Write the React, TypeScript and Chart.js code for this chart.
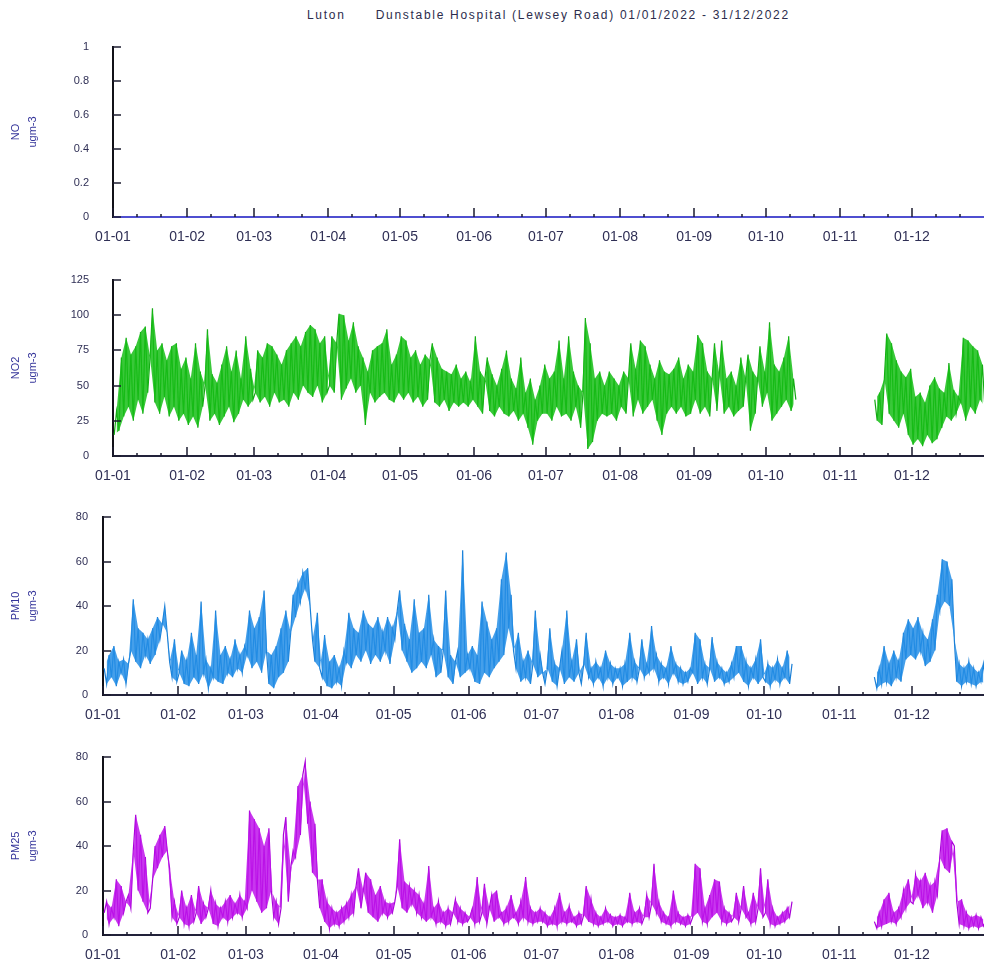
import React, { useEffect, useRef } from 'react';
import { Chart, registerables } from 'chart.js';

Chart.register(...registerables);

const TITLE = 'Luton      Dunstable Hospital (Lewsey Road) 01/01/2022 - 31/12/2022';
const MONTH_LABELS = ['01-01', '01-02', '01-03', '01-04', '01-05', '01-06', '01-07', '01-08', '01-09', '01-10', '01-11', '01-12'];
const MONTH_STARTS = [0, 31, 59, 90, 120, 151, 181, 212, 243, 273, 304, 334];
const YEAR_END = 365;
const MINOR_OFFSETS = [10, 20];

// NO: flat zero line all year (values at month boundaries)
const NO_VALUES = [0, 0, 0, 0, 0, 0, 0, 0, 0, 0, 0, 0, 0];

// NO2 daily high/low readings (ugm-3)
const NO2_JAN = [15, 32, 18, 70, 28, 84, 35, 72, 25, 78, 40, 88, 30, 92, 45, 70, 105, 38, 75, 30, 80, 42, 68, 28, 78, 35, 80, 25, 62, 30, 70];
const NO2_FEB = [22, 55, 28, 80, 20, 60, 35, 50, 90, 25, 58, 30, 52, 22, 65, 28, 78, 35, 60, 24, 75, 30, 55, 40, 85, 35, 62, 40];
const NO2_MAR = [45, 75, 38, 70, 42, 80, 35, 78, 45, 72, 38, 65, 40, 75, 35, 80, 45, 85, 40, 78, 50, 88, 45, 93, 42, 90, 50, 80, 38, 85, 45];
const NO2_APR = [50, 85, 45, 80, 101, 40, 100, 48, 82, 55, 95, 45, 78, 50, 70, 22, 60, 45, 75, 38, 78, 42, 80, 45, 90, 40, 65, 38, 72, 45];
const NO2_MAY = [85, 40, 82, 45, 70, 38, 75, 42, 65, 35, 72, 40, 68, 80, 38, 70, 35, 62, 40, 60, 32, 58, 38, 65, 35, 55, 38, 60, 35, 52, 40];
const NO2_JUN = [85, 35, 60, 30, 55, 70, 32, 58, 28, 50, 35, 62, 30, 75, 28, 55, 32, 48, 25, 70, 30, 45, 20, 55, 8, 40, 25, 50, 30, 65];
const NO2_JUL = [30, 55, 25, 60, 35, 82, 28, 55, 30, 85, 25, 60, 35, 50, 20, 45, 98, 5, 80, 10, 55, 25, 60, 30, 50, 28, 60, 30, 55, 25, 50];
const NO2_AUG = [35, 60, 30, 55, 80, 28, 62, 40, 82, 30, 78, 35, 65, 40, 55, 25, 68, 15, 60, 30, 58, 35, 62, 30, 70, 35, 55, 28, 65, 30, 60];
const NO2_SEP = [40, 86, 30, 80, 35, 60, 28, 55, 80, 32, 58, 82, 30, 55, 35, 60, 28, 50, 32, 70, 35, 55, 72, 18, 60, 30, 55, 78, 35, 60];
const NO2_OCT = [45, 95, 25, 65, 30, 60, 35, 70, 40, 85, 32, 55, 40, null];
const NO2_NOV = [null, null, null, null, null, null, null, null, null, null, null, null, null, null, 40, 25, 45, 22, 55, 87, 30, 80, 25, 68, 20, 60, 30, 56, 15, 62];
const NO2_DEC = [8, 42, 12, 45, 7, 38, 15, 50, 9, 56, 12, 48, 20, 45, 28, 66, 25, 47, 30, 42, 38, 84, 25, 82, 35, 78, 30, 75, 40, 65, 35];

// PM10 daily high/low readings (ugm-3)
const PM10_JAN = [12, 5, 18, 8, 22, 4, 15, 10, 16, 5, 14, 20, 43, 15, 30, 12, 28, 18, 25, 14, 30, 18, 35, 25, 32, 40, 28, 15, 8, 25, 6];
const PM10_FEB = [10, 20, 5, 15, 4, 28, 8, 18, 5, 42, 10, 16, 3, 12, 8, 38, 6, 18, 5, 22, 10, 16, 8, 25, 12, 18, 10, 22];
const PM10_MAR = [18, 38, 12, 30, 15, 35, 10, 47, 20, 5, 18, 3, 22, 8, 30, 10, 38, 15, 28, 45, 35, 50, 42, 55, 48, 57, 40, 25, 15, 37, 12];
const PM10_APR = [8, 27, 4, 15, 3, 18, 6, 12, 4, 20, 15, 37, 12, 30, 18, 28, 15, 38, 20, 32, 14, 30, 18, 35, 15, 28, 20, 35, 14, 30];
const PM10_MAY = [25, 38, 47, 20, 32, 15, 25, 10, 43, 12, 28, 15, 30, 12, 45, 18, 25, 8, 22, 10, 20, 47, 8, 18, 5, 15, 20, 8, 65, 10, 18];
const PM10_JUN = [12, 22, 6, 18, 5, 42, 10, 33, 8, 25, 12, 30, 15, 52, 18, 64, 30, 45, 20, 12, 28, 6, 15, 8, 20, 5, 14, 38, 8, 18];
const PM10_JUL = [10, 5, 12, 30, 6, 14, 4, 12, 20, 5, 38, 8, 15, 6, 25, 10, 5, 14, 28, 8, 12, 5, 15, 8, 12, 4, 20, 8, 14, 5, 12];
const PM10_AUG = [8, 12, 4, 14, 6, 28, 8, 15, 6, 12, 25, 8, 14, 10, 31, 12, 18, 6, 14, 8, 12, 5, 22, 10, 14, 6, 12, 5, 10, 6, 12];
const PM10_SEP = [10, 28, 5, 25, 8, 14, 5, 12, 26, 6, 15, 8, 12, 5, 10, 6, 14, 8, 22, 10, 22, 6, 15, 4, 12, 8, 16, 5, 25, 8];
const PM10_OCT = [6, 14, 4, 12, 7, 16, 5, 12, 8, 20, 5, 14, null];
const PM10_NOV = [null, null, null, null, null, null, null, null, null, null, null, null, null, null, 8, 3, 12, 5, 22, 6, 14, 4, 20, 8, 15, 6, 28, 16, 34, 18];
const PM10_DEC = [30, 16, 35, 20, 28, 13, 25, 15, 34, 20, 45, 38, 61, 42, 60, 40, 52, 25, 6, 14, 4, 12, 6, 15, 5, 12, 4, 10, 6, 14, 5];

// PM2.5 daily high/low readings (ugm-3)
const PM25_JAN = [10, 15, 5, 12, 8, 25, 4, 22, 10, 15, 18, 12, 38, 54, 20, 45, 15, 35, 10, 12, 25, 40, 30, 45, 35, 49, 38, 30, 8, 15, 5];
const PM25_FEB = [8, 20, 5, 12, 4, 18, 6, 10, 22, 5, 14, 8, 12, 20, 5, 14, 4, 12, 8, 15, 6, 18, 8, 14, 10, 18, 8, 15];
const PM25_MAR = [12, 56, 20, 52, 15, 48, 10, 40, 12, 48, 20, 8, 15, 5, 12, 45, 53, 15, 30, 38, 35, 67, 45, 72, 78, 50, 60, 28, 50, 25, 12];
const PM25_APR = [25, 6, 15, 3, 12, 5, 10, 4, 12, 6, 14, 8, 18, 10, 22, 30, 12, 20, 28, 10, 25, 8, 18, 6, 22, 10, 15, 8, 14, 10];
const PM25_MAY = [15, 22, 43, 12, 24, 10, 22, 14, 20, 10, 18, 8, 14, 6, 31, 8, 12, 5, 15, 6, 10, 4, 12, 5, 10, 16, 6, 12, 5, 10, 6];
const PM25_JUN = [8, 12, 5, 26, 6, 10, 23, 5, 12, 18, 6, 20, 8, 10, 5, 12, 6, 18, 8, 10, 5, 15, 8, 26, 6, 12, 5, 10, 6, 12];
const PM25_JUL = [6, 10, 4, 8, 5, 12, 4, 19, 6, 10, 5, 13, 6, 8, 4, 10, 5, 9, 22, 6, 16, 5, 10, 4, 8, 5, 12, 6, 9, 4, 8];
const PM25_AUG = [5, 9, 4, 8, 6, 19, 5, 10, 6, 12, 5, 8, 18, 8, 14, 32, 10, 15, 6, 10, 5, 8, 4, 20, 6, 10, 5, 8, 4, 9, 5];
const PM25_SEP = [8, 32, 10, 30, 6, 12, 5, 18, 8, 25, 10, 24, 6, 12, 5, 10, 6, 8, 19, 6, 12, 22, 8, 10, 5, 19, 6, 12, 30, 8];
const PM25_OCT = [10, 25, 5, 12, 4, 8, 5, 10, 6, 12, 8, 15, null];
const PM25_NOV = [null, null, null, null, null, null, null, null, null, null, null, null, null, null, 6, 3, 10, 4, 16, 5, 19, 6, 10, 5, 12, 8, 20, 12, 25, 15];
const PM25_DEC = [14, 27, 18, 24, 12, 28, 15, 22, 10, 24, 18, 35, 47, 30, 48, 28, 42, 40, 15, 5, 16, 4, 10, 3, 8, 4, 9, 3, 8, 4, 6];

type Pt = { x: number; y: number | null };

function monthPoints(months: (number | null)[][]): Pt[] {
  const pts: Pt[] = [];
  months.forEach((arr, m) => {
    arr.forEach((v, i) => pts.push({ x: MONTH_STARTS[m] + i + 0.5, y: v }));
  });
  return pts;
}

function boundaryPoints(vals: number[]): Pt[] {
  const bounds = [...MONTH_STARTS, YEAR_END];
  return vals.map((v, i) => ({ x: bounds[i], y: v }));
}

const FONT = '"Liberation Sans", Arial, sans-serif';
const CW = 990;
const PAD_TOP = 10;
const X_AXIS_H = 30;

type Panel = {
  key: string;
  top: number;
  areaH: number;
  axisLeft: number;
  plotRight: number;
  yMax: number;
  yStep: number;
  labelPad: number;
  title: string[];
  color: string;
  band: string | null;
  width: number;
  points: Pt[];
};

const PANELS: Panel[] = [
  {
    key: 'NO', top: 37, areaH: 170, axisLeft: 113, plotRight: 986, yMax: 1, yStep: 0.2, labelPad: 24,
    title: ['NO', 'ugm-3'], color: '#4f4fd0', band: null, width: 2, points: boundaryPoints(NO_VALUES),
  },
  {
    key: 'NO2', top: 270, areaH: 176, axisLeft: 113, plotRight: 986, yMax: 125, yStep: 25, labelPad: 24,
    title: ['NO2', 'ugm-3'], color: '#14a814', band: 'rgba(22, 190, 22, 0.85)', width: 1.2,
    points: monthPoints([NO2_JAN, NO2_FEB, NO2_MAR, NO2_APR, NO2_MAY, NO2_JUN, NO2_JUL, NO2_AUG, NO2_SEP, NO2_OCT, NO2_NOV, NO2_DEC]),
  },
  {
    key: 'PM10', top: 507, areaH: 178, axisLeft: 103, plotRight: 987, yMax: 80, yStep: 20, labelPad: 15,
    title: ['PM10', 'ugm-3'], color: '#1a7fd6', band: 'rgba(36, 142, 230, 0.85)', width: 1.2,
    points: monthPoints([PM10_JAN, PM10_FEB, PM10_MAR, PM10_APR, PM10_MAY, PM10_JUN, PM10_JUL, PM10_AUG, PM10_SEP, PM10_OCT, PM10_NOV, PM10_DEC]),
  },
  {
    key: 'PM25', top: 747, areaH: 178, axisLeft: 103, plotRight: 987, yMax: 80, yStep: 20, labelPad: 15,
    title: ['PM25', 'ugm-3'], color: '#a800d8', band: 'rgba(190, 20, 235, 0.85)', width: 1.2,
    points: monthPoints([PM25_JAN, PM25_FEB, PM25_MAR, PM25_APR, PM25_MAY, PM25_JUN, PM25_JUL, PM25_AUG, PM25_SEP, PM25_OCT, PM25_NOV, PM25_DEC]),
  },
];

const tickMarks = {
  id: 'tickMarks',
  afterDraw(chart: any) {
    const { ctx, chartArea, scales } = chart;
    const x = scales.x;
    const y = scales.y;
    ctx.save();
    ctx.strokeStyle = '#1c1c30';
    ctx.lineWidth = 1.5;
    ctx.beginPath();
    MONTH_STARTS.forEach((s) => {
      const px = Math.round(x.getPixelForValue(s));
      ctx.moveTo(px, chartArea.bottom);
      ctx.lineTo(px, chartArea.bottom - 9);
      MINOR_OFFSETS.forEach((o) => {
        const mx = Math.round(x.getPixelForValue(s + o));
        ctx.moveTo(mx, chartArea.bottom);
        ctx.lineTo(mx, chartArea.bottom - 3);
      });
    });
    y.ticks.forEach((t: any) => {
      const py = Math.round(y.getPixelForValue(t.value));
      ctx.moveTo(chartArea.left, py);
      ctx.lineTo(chartArea.left + 8, py);
    });
    ctx.stroke();
    ctx.restore();
  },
};

function makeConfig(p: Panel): any {
  const datasets: any[] = [];
  if (p.band) {
    // Band between alternating (hourly spread) readings so the trace looks dense
    const even = p.points.filter((_, i) => i % 2 === 0);
    const odd = p.points.filter((_, i) => i % 2 === 1);
    datasets.push({
      label: p.key + ' a',
      data: even,
      borderWidth: 0,
      pointRadius: 0,
      tension: 0,
      fill: false,
      spanGaps: false,
    });
    datasets.push({
      label: p.key + ' b',
      data: odd,
      borderWidth: 0,
      pointRadius: 0,
      tension: 0,
      fill: '-1',
      backgroundColor: p.band,
      spanGaps: false,
    });
  }
  datasets.push({
    label: p.key,
    data: p.points,
    borderColor: p.color,
    backgroundColor: p.color,
    borderWidth: p.width,
    pointRadius: 0,
    tension: 0,
    spanGaps: false,
    fill: false,
    clip: p.band ? undefined : false,
  });
  return {
    type: 'line',
    data: { datasets },
    options: {
      animation: false,
      responsive: false,
      events: [],
      layout: { padding: { top: PAD_TOP, left: 0, bottom: 0, right: CW - p.plotRight } },
      plugins: {
        legend: { display: false },
        tooltip: { enabled: false },
        title: { display: false },
        filler: { propagate: false },
      },
      scales: {
        x: {
          type: 'linear',
          min: 0,
          max: YEAR_END,
          afterBuildTicks: (axis: any) => {
            axis.ticks = MONTH_STARTS.map((v) => ({ value: v }));
          },
          afterFit: (scale: any) => {
            scale.height = X_AXIS_H;
          },
          grid: { display: false, drawTicks: false },
          border: { display: true, color: '#22223a', width: 2 },
          ticks: {
            autoSkip: false,
            maxRotation: 0,
            padding: 12,
            color: '#2f2f55',
            font: { family: FONT, size: 14 },
            callback: (v: number) => {
              const i = MONTH_STARTS.indexOf(v);
              return i >= 0 ? MONTH_LABELS[i] : '';
            },
          },
        },
        y: {
          type: 'linear',
          min: 0,
          max: p.yMax,
          afterFit: (scale: any) => {
            scale.width = p.axisLeft;
            scale.paddingTop = 0;
            scale.paddingBottom = 0;
          },
          grid: { display: false, drawTicks: false },
          border: { display: true, color: '#111118', width: 2 },
          ticks: {
            stepSize: p.yStep,
            padding: p.labelPad,
            color: '#2f2f55',
            font: { family: FONT, size: 11 },
            callback: (v: number) => String(Math.round(v * 10) / 10),
          },
          title: {
            display: true,
            text: p.title,
            color: '#34349a',
            font: { family: FONT, size: 11, lineHeight: 1.6 },
            padding: { top: 7, bottom: 0 },
          },
        },
      },
    },
    plugins: [tickMarks],
  };
}

export default function App() {
  const canvases = useRef<(HTMLCanvasElement | null)[]>([]);

  useEffect(() => {
    const charts = PANELS.map((p, i) => new Chart(canvases.current[i] as HTMLCanvasElement, makeConfig(p)));
    return () => charts.forEach((c) => c.destroy());
  }, []);

  return (
    <div
      style={{
        position: 'absolute',
        left: 0,
        top: 0,
        width: 984,
        height: 967,
        overflow: 'hidden',
        background: '#ffffff',
      }}
    >
      <div
        style={{
          position: 'absolute',
          left: 307,
          top: 8,
          fontFamily: FONT,
          fontSize: 12,
          letterSpacing: 1.7,
          whiteSpace: 'pre',
          color: '#2c2c4c',
          lineHeight: '14px',
        }}
      >
        {TITLE}
      </div>
      {PANELS.map((p, i) => {
        const h = PAD_TOP + p.areaH + X_AXIS_H;
        return (
          <canvas
            key={p.key}
            ref={(el) => {
              canvases.current[i] = el;
            }}
            width={CW}
            height={h}
            style={{ position: 'absolute', left: 0, top: p.top, width: CW, height: h }}
          />
        );
      })}
    </div>
  );
}
